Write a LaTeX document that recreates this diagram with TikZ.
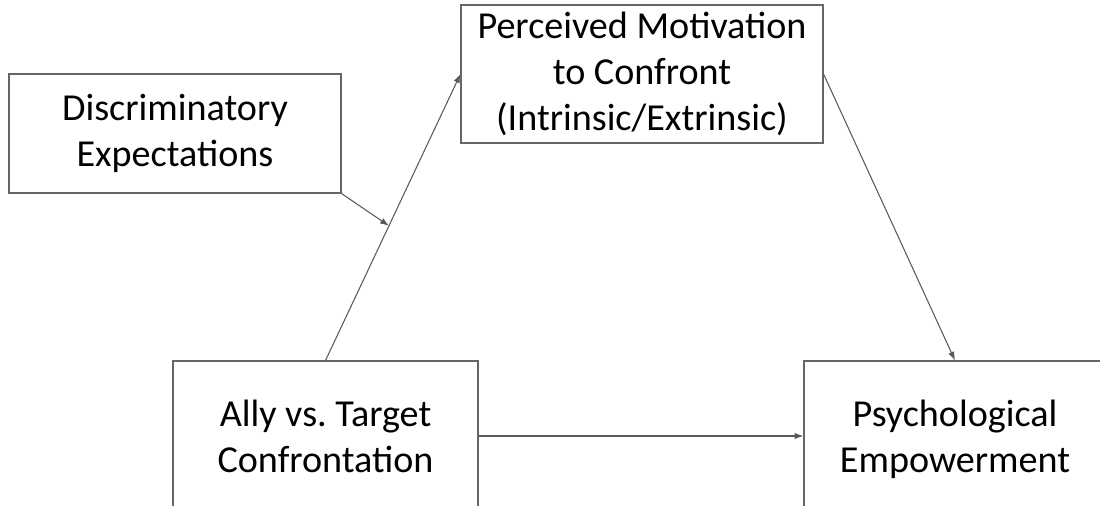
\documentclass[tikz,border=0pt]{standalone}
\usepackage{fontspec}
\setmainfont{Carlito}
\usepackage{tikz}
\usetikzlibrary{arrows.meta}
\tikzset{
    varbox/.style={draw=black!60, line width=0.6pt, rectangle, align=center,
        inner sep=0pt, font=\fontsize{21.7}{26}\selectfont},
    path/.style={draw=black!65, line width=0.6pt, -{Latex[length=5pt,width=3.6pt]}},
}

\begin{document}
\begin{tikzpicture}
    \useasboundingbox (0,0) rectangle (22,-10.14);
    \clip (0,0) rectangle (22,-10.1);
    \node[varbox, minimum width=6.64cm, minimum height=2.38cm] (disc) at (3.5,-2.67) {Discriminatory\\Expectations};
    \node[varbox, minimum width=7.24cm, minimum height=2.76cm] (perc) at (12.84,-1.48) {Perceived Motivation\\to Confront\\(Intrinsic/Extrinsic)};
    \node[varbox, minimum width=6.1cm, minimum height=3cm, text depth=-0.1cm] (ally) at (6.51,-8.72) {Ally vs.\ Target\\Confrontation};
    \node[varbox, minimum width=6.04cm, minimum height=3cm, text depth=-0.1cm] (psych) at (19.1,-8.72) {Psychological\\Empowerment};
    % paths
    \draw[path] (ally.north) -- (perc.west) coordinate[pos=0.47] (mod);
    \draw[path] (perc.east) -- (psych.north);
    \draw[path] (ally.east) -- (psych.west);
    \draw[path] (disc.south east) -- (mod);
\end{tikzpicture}
\end{document}
